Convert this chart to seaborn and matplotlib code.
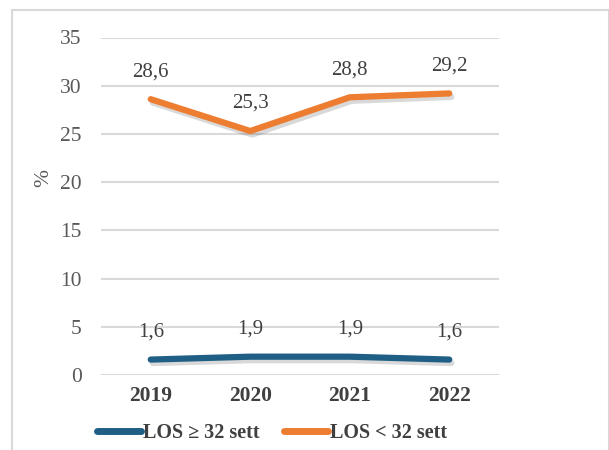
import matplotlib
matplotlib.use("Agg")
import matplotlib.pyplot as plt
import matplotlib.patheffects as pe
from matplotlib.lines import Line2D
from matplotlib.patches import Rectangle
import seaborn as sns
import pandas as pd

years = ["2019", "2020", "2021", "2022"]
los_ge32 = [1.6, 1.9, 1.9, 1.6]
los_lt32 = [28.6, 25.3, 28.8, 29.2]
series_names = ["LOS \u2265 32 sett", "LOS < 32 sett"]
colors = ["#1F5F86", "#ED7D31"]
yticks = [0, 5, 10, 15, 20, 25, 30, 35]

df = pd.DataFrame({
    "year": years * 2,
    "x": list(range(len(years))) * 2,
    "value": los_ge32 + los_lt32,
    "series": [series_names[0]] * len(years) + [series_names[1]] * len(years),
})

sns.set_theme(style="white")
plt.rcParams["font.family"] = ["Liberation Serif", "DejaVu Serif"]

W, H = 609, 450
fig = plt.figure(figsize=(W / 100, H / 100), dpi=100)
ax = fig.add_axes([101 / W, 1 - 375 / H, 398 / W, 337.5 / H])

# outer chart frame
fig.patches.append(Rectangle((12 / W, -0.1), (W - 12.5) / W, 1.1 - 10 / H,
                             transform=fig.transFigure, fill=False,
                             edgecolor="#D9D9D9", linewidth=1.5))

shadow = [pe.SimpleLineShadow(offset=(1.5, -2.5), shadow_color="#000000", alpha=0.15),
          pe.Normal()]
sns.lineplot(data=df, x="x", y="value", hue="series", palette=colors,
             linewidth=4.5, ax=ax, legend=False, sort=False)
for line in ax.lines:
    line.set_solid_capstyle("round")
    line.set_path_effects(shadow)

# value labels
for vals in (los_ge32, los_lt32):
    for i, v in enumerate(vals):
        ax.annotate(f"{v:.1f}".replace(".", ","), (i, v), xytext=(0, 13),
                    textcoords="offset points", ha="center", va="bottom",
                    fontsize=15, color="#404040")

ax.set_xlim(-0.5, 3.5)
ax.set_ylim(0, 35)
ax.set_yticks(yticks)
ax.set_yticklabels([str(t) for t in yticks], fontsize=15.5, color="#595959")
ax.set_xticks(range(len(years)))
ax.set_xticklabels(years, fontsize=15.5, fontweight="bold", color="#404040")
ax.tick_params(axis="y", length=0, pad=14)
ax.tick_params(axis="x", length=0, pad=8)
ax.grid(axis="y", color="#D9D9D9", linewidth=1.5)
ax.set_axisbelow(True)
for s in ax.spines.values():
    s.set_visible(False)
ax.set_xlabel("")
ax.set_ylabel("%", fontsize=15.5, color="#595959")
ax.yaxis.set_label_coords(-0.12, 0.585)

handles = [Line2D([0], [0], color=c, linewidth=5, solid_capstyle="round") for c in colors]
leg = fig.legend(handles, series_names, loc="center", bbox_to_anchor=(272 / W, 1 - 433 / H),
                 ncol=2, frameon=False, handlelength=2.2, handletextpad=0.1,
                 columnspacing=1.2, prop={"size": 14.5, "weight": "bold"})
for t in leg.get_texts():
    t.set_color("#404040")

fig.savefig("out.png", dpi=100)
